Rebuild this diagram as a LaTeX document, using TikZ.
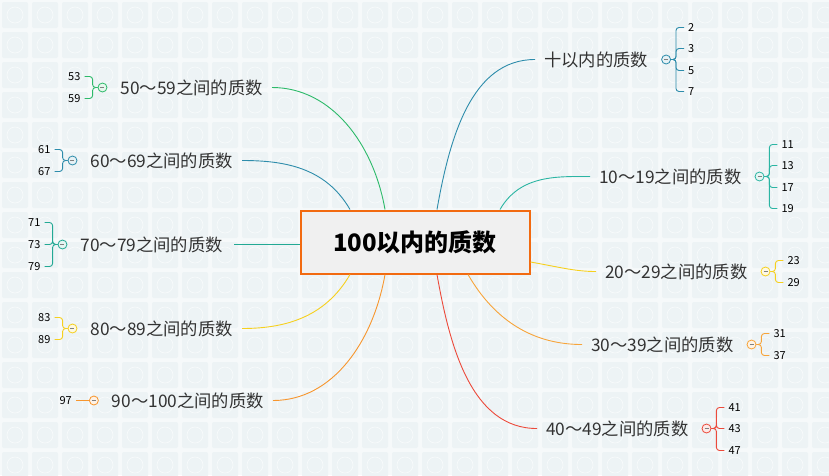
\documentclass[tikz,border=0pt]{standalone}
\usepackage{fontspec}
\setmainfont{Noto Sans CJK SC}
\usetikzlibrary{positioning,calc}
\definecolor{bgbase}{HTML}{F6F9FA}
\definecolor{bgtile}{HTML}{EDF3F5}
\definecolor{bgline}{HTML}{F7FAFB}
\definecolor{txtgray}{HTML}{333333}
\definecolor{rootorange}{HTML}{F26A10}
\definecolor{rootfill}{HTML}{F0F0F0}
\definecolor{colblue}{HTML}{2D8CAB}
\definecolor{colmint}{HTML}{2BB5A3}
\definecolor{colyellow}{HTML}{F6D01E}
\definecolor{colorange}{HTML}{F7A43A}
\definecolor{colred}{HTML}{EC4A3B}
\definecolor{colgreen}{HTML}{2DBA6A}
\definecolor{colteal}{HTML}{22A994}
\definecolor{coldeep}{HTML}{F7962E}
\tikzset{
  root/.style={draw=rootorange, line width=2pt, fill=rootfill, minimum width=229pt,
    minimum height=63pt, font=\fontsize{24}{28}\selectfont\bfseries, text=black},
  topic/.style={inner sep=1pt, text=txtgray, font=\fontsize{17.3}{20}\selectfont, yshift=-1.5pt},
  leaf/.style={inner sep=1pt, text=black, font=\fontsize{11}{13}\selectfont},
  fold/.style={circle, draw=#1, fill=#1!12!white, line width=0.8pt, minimum size=9pt, inner sep=0pt},
  branch/.style={#1, line width=0.9pt, shorten >=8pt},
  twig/.style={#1, line width=0.9pt, rounded corners=3pt, shorten >=3pt}
}
\newcommand\foldmark{\textcolor{gray}{\rule{4pt}{0.7pt}}}

\begin{document}
\begin{tikzpicture}[x=1pt,y=-1pt]
\useasboundingbox (0,0) rectangle (829,475);
% tiled background
\begin{scope}
\clip (0,0) rectangle (829,475);
\fill[bgbase] (0,0) rectangle (829,475);
\foreach \i in {0,...,27}{
  \foreach \j in {0,...,15}{
    \fill[bgtile, rounded corners=2pt] (\i*30+2,\j*30+2) rectangle ++(26,26);
    \draw[bgline, line width=0.7pt] (\i*30+15,\j*30+15) circle[radius=8pt];
  }
}
\end{scope}

\node[root] (root) at (415,242) {100以内的质数};

% right side
\node[topic, anchor=west] (ten) at (543,58) {十以内的质数};
\node[fold=colblue, right=12pt of ten] (ten-f) {\foldmark};
\draw[branch=colblue] ($(root.north)+(22,0)$) to[out=80, in=180] (ten);
\foreach \n/\dy in {2/-32,3/-11,5/11,7/32}{
  \node[leaf, anchor=west] (ten-\n) at ($(ten-f.east)+(16,\dy)$) {\n};
  \draw[twig=colblue] (ten-f.east) -- ++(5,0) |- (ten-\n);
}

\node[topic, anchor=west] (s10) at (598,175) {10～19之间的质数};
\node[fold=colmint, right=12pt of s10] (s10-f) {\foldmark};
\draw[branch=colmint] ($(root.north)+(85,0)$) to[out=60, in=180] (s10);
\foreach \n/\dy in {11/-32,13/-11,17/11,19/32}{
  \node[leaf, anchor=west] (s10-\n) at ($(s10-f.east)+(16,\dy)$) {\n};
  \draw[twig=colmint] (s10-f.east) -- ++(5,0) |- (s10-\n);
}

\node[topic, anchor=west] (s20) at (604,270) {20～29之间的质数};
\node[fold=colyellow, right=12pt of s20] (s20-f) {\foldmark};
\draw[branch=colyellow] ($(root.east)+(0,20)$) to[out=-10, in=180] (s20);
\foreach \n/\dy in {23/-11,29/11}{
  \node[leaf, anchor=west] (s20-\n) at ($(s20-f.east)+(16,\dy)$) {\n};
  \draw[twig=colyellow] (s20-f.east) -- ++(5,0) |- (s20-\n);
}

\node[topic, anchor=west] (s30) at (590,343) {30～39之间的质数};
\node[fold=colorange, right=12pt of s30] (s30-f) {\foldmark};
\draw[branch=colorange] ($(root.south)+(53,0)$) to[out=-60, in=180] (s30);
\foreach \n/\dy in {31/-11,37/11}{
  \node[leaf, anchor=west] (s30-\n) at ($(s30-f.east)+(16,\dy)$) {\n};
  \draw[twig=colorange] (s30-f.east) -- ++(5,0) |- (s30-\n);
}

\node[topic, anchor=west] (s40) at (545,427) {40～49之间的质数};
\node[fold=colred, right=12pt of s40] (s40-f) {\foldmark};
\draw[branch=colred] ($(root.south)+(22,0)$) to[out=-80, in=180] (s40);
\foreach \n/\dy in {41/-21,43/0,47/22}{
  \node[leaf, anchor=west] (s40-\n) at ($(s40-f.east)+(16,\dy)$) {\n};
  \draw[twig=colred] (s40-f.east) -- ++(5,0) |- (s40-\n);
}

% left side
\node[topic, anchor=east] (s50) at (264,86) {50～59之间的质数};
\node[fold=colgreen, left=12pt of s50] (s50-f) {\foldmark};
\draw[branch=colgreen] ($(root.north)+(-30,0)$) to[out=100, in=0] (s50);
\foreach \n/\dy in {53/-11,59/11}{
  \node[leaf, anchor=east] (s50-\n) at ($(s50-f.west)+(-16,\dy)$) {\n};
  \draw[twig=colgreen] (s50-f.west) -- ++(-5,0) |- (s50-\n);
}

\node[topic, anchor=east] (s60) at (234,159) {60～69之间的质数};
\node[fold=colblue, left=12pt of s60] (s60-f) {\foldmark};
\draw[branch=colblue] ($(root.north)+(-65,0)$) to[out=120, in=0] (s60);
\foreach \n/\dy in {61/-11,67/11}{
  \node[leaf, anchor=east] (s60-\n) at ($(s60-f.west)+(-16,\dy)$) {\n};
  \draw[twig=colblue] (s60-f.west) -- ++(-5,0) |- (s60-\n);
}

\node[topic, anchor=east] (s70) at (224,243) {70～79之间的质数};
\node[fold=colteal, left=12pt of s70] (s70-f) {\foldmark};
\draw[branch=colteal, shorten >=0pt, shorten <=10pt] (s70.east) -- (s70.east -| root.west);
\foreach \n/\dy in {71/-22,73/0,79/22}{
  \node[leaf, anchor=east] (s70-\n) at ($(s70-f.west)+(-16,\dy)$) {\n};
  \draw[twig=colteal] (s70-f.west) -- ++(-5,0) |- (s70-\n);
}

\node[topic, anchor=east] (s80) at (234,327) {80～89之间的质数};
\node[fold=colyellow, left=12pt of s80] (s80-f) {\foldmark};
\draw[branch=colyellow] ($(root.south)+(-65,0)$) to[out=-120, in=0] (s80);
\foreach \n/\dy in {83/-11,89/11}{
  \node[leaf, anchor=east] (s80-\n) at ($(s80-f.west)+(-16,\dy)$) {\n};
  \draw[twig=colyellow] (s80-f.west) -- ++(-5,0) |- (s80-\n);
}

\node[topic, anchor=east] (s90) at (265,399) {90～100之间的质数};
\node[fold=coldeep, left=12pt of s90] (s90-f) {\foldmark};
\draw[branch=coldeep] ($(root.south)+(-30,0)$) to[out=-100, in=0] (s90);
\node[leaf, anchor=east] (s90-97) at ($(s90-f.west)+(-16,0)$) {97};
\draw[twig=coldeep] (s90-f.west) -- (s90-97);
\end{tikzpicture}
\end{document}
